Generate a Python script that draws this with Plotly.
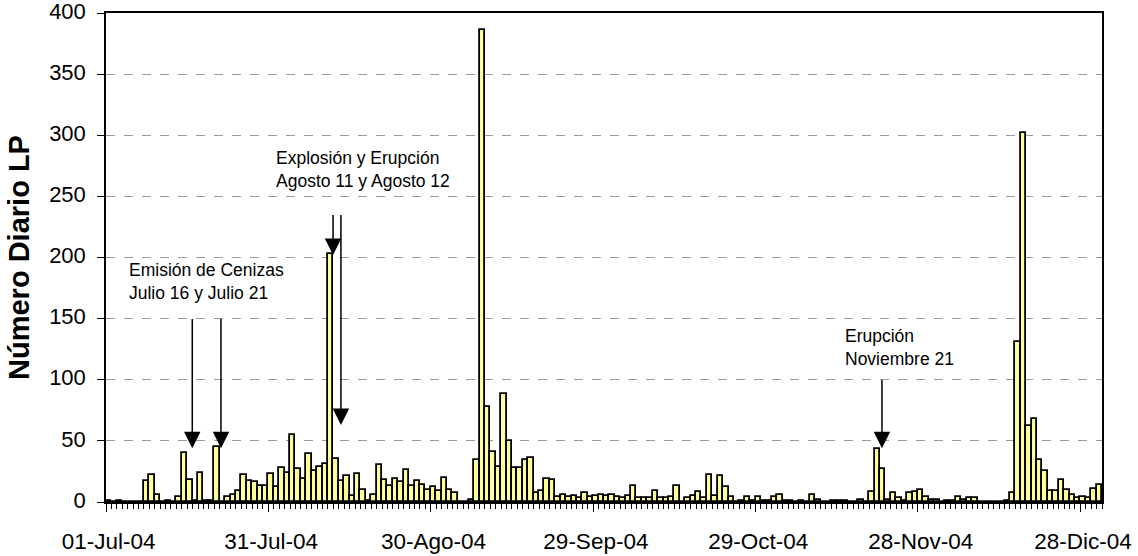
import pandas as pd
import plotly.graph_objects as go

# Daily LP event counts, 01-Jul-2004 .. 31-Dec-2004
dates = pd.date_range("2004-07-01", "2004-12-31", freq="D")
lp_counts = [
    1, 0, 1, 0, 0, 0, 0, 17, 22, 6,
    0, 1, 0, 4, 40, 18, 1, 24, 1, 1,
    45, 0, 4, 6, 9, 22, 17, 16, 13, 13,
    23, 12, 28, 24, 55, 27, 19, 39, 25, 29,
    31, 203, 35, 17, 21, 5, 23, 10, 1, 6,
    30, 18, 13, 19, 16, 26, 13, 17, 14, 10,
    12, 9, 20, 10, 7, 0, 0, 2, 34, 386,
    78, 41, 29, 88, 50, 28, 28, 34, 36, 7,
    9, 19, 18, 4, 6, 4, 5, 3, 7, 4,
    5, 6, 5, 6, 4, 3, 5, 13, 3, 3,
    3, 9, 3, 3, 4, 13, 0, 3, 5, 8,
    3, 22, 5, 21, 12, 4, 0, 1, 4, 1,
    4, 1, 1, 4, 6, 1, 1, 0, 1, 0,
    6, 2, 0, 0, 1, 1, 1, 0, 0, 2,
    0, 8, 43, 27, 2, 7, 3, 1, 7, 8,
    10, 4, 2, 2, 0, 1, 1, 4, 2, 3,
    3, 0, 0, 0, 0, 0, 1, 7, 131, 302,
    62, 68, 34, 25, 9, 9, 18, 10, 6, 3,
    4, 3, 11, 14,
]
tick_days = [0, 30, 60, 90, 120, 150, 180]
tick_labels = ["01-Jul-04", "31-Jul-04", "30-Ago-04", "29-Sep-04",
               "29-Oct-04", "28-Nov-04", "28-Dic-04"]
y_ticks = [0, 50, 100, 150, 200, 250, 300, 350, 400]

# annotation texts and arrow (day position, tail value, tip value)
notes = [
    ("Emisión de Cenizas<br>Julio 16 y Julio 21", 3.4, 180),
    ("Explosión y Erupción<br>Agosto 11 y Agosto 12", 30.6, 272),
    ("Erupción<br>Noviembre 21", 135.7, 126.5),
]
arrows = [
    (15.44, 151, 44),
    (20.74, 151, 44),
    (41.45, 236, 202),
    (42.9, 236, 63),
    (142.85, 101, 44),
]

FONT = "Arial, Liberation Sans, sans-serif"
x = list(range(len(dates)))
n = len(dates)

fig = go.Figure()
fig.add_trace(go.Bar(
    x=x, y=lp_counts, width=1.0,
    marker=dict(color="#FFFF99", line=dict(color="black", width=1.8)),
    hovertext=[d.strftime("%d-%b-%y") for d in dates],
))
# invisible helper trace carrying the boundary tick axis
fig.add_trace(go.Scatter(x=x, y=lp_counts, xaxis="x2", mode="markers",
                         marker=dict(opacity=0), hoverinfo="skip",
                         showlegend=False))

rng = [-0.5, n - 0.5]
fig.update_layout(
    width=1138, height=556,
    margin=dict(l=106, r=36, t=13, b=54),
    paper_bgcolor="white", plot_bgcolor="white",
    showlegend=False, bargap=0,
    font=dict(family=FONT, color="black"),
    xaxis=dict(
        range=rng, tickmode="array", tickvals=tick_days, ticktext=tick_labels,
        ticks="outside", ticklen=5, tickcolor="rgba(0,0,0,0)",
        ticklabelstandoff=13, automargin=False, ticklabeloverflow="allow",
        tickfont=dict(size=22.5, family=FONT),
        showgrid=False, showline=True, linecolor="black", linewidth=1.5,
        mirror=True, zeroline=False,
        minor=dict(ticks="outside", ticklen=5, tickcolor="black",
                   tickwidth=1, dtick=1, tick0=-0.5, showgrid=False),
    ),
    xaxis2=dict(
        range=rng, overlaying="x", anchor="y", side="bottom",
        tickmode="array", tickvals=[d - 0.5 for d in tick_days],
        ticks="outside", ticklen=9, tickcolor="black", tickwidth=1,
        showticklabels=False, showgrid=False, showline=False, zeroline=False,
        automargin=False,
    ),
    yaxis=dict(
        range=[0, 400], tickmode="array", tickvals=y_ticks,
        ticks="outside", ticklen=7, tickcolor="black",
        ticklabelstandoff=7, ticklabelshift=-2,
        automargin=False, ticklabeloverflow="allow",
        tickfont=dict(size=22, family=FONT),
        showgrid=True, gridcolor="#9a9a9a", griddash="dash", gridwidth=1,
        showline=True, linecolor="black", linewidth=1.5, mirror=True,
        zeroline=False,
        title=dict(text="<b>Número Diario LP</b>",
                   font=dict(size=29, family=FONT), standoff=11),
    ),
)

for text, xd, yv in notes:
    fig.add_annotation(x=xd, y=yv, xref="x", yref="y", text=text,
                       showarrow=False, xanchor="left", yanchor="middle",
                       align="left", font=dict(size=17.5, family=FONT))

for xd, tail, tip in arrows:
    fig.add_annotation(x=xd, y=tip, ax=xd, ay=tail, xref="x", yref="y",
                       axref="x", ayref="y", text="", showarrow=True,
                       arrowhead=2, arrowsize=2.2, arrowwidth=1.5,
                       arrowcolor="black", standoff=0)

# remove the default 8px page margin so the figure fills the window exactly
fig.write_html("out.html", config={"displayModeBar": False},
               post_script="document.body.style.margin='0px';")
